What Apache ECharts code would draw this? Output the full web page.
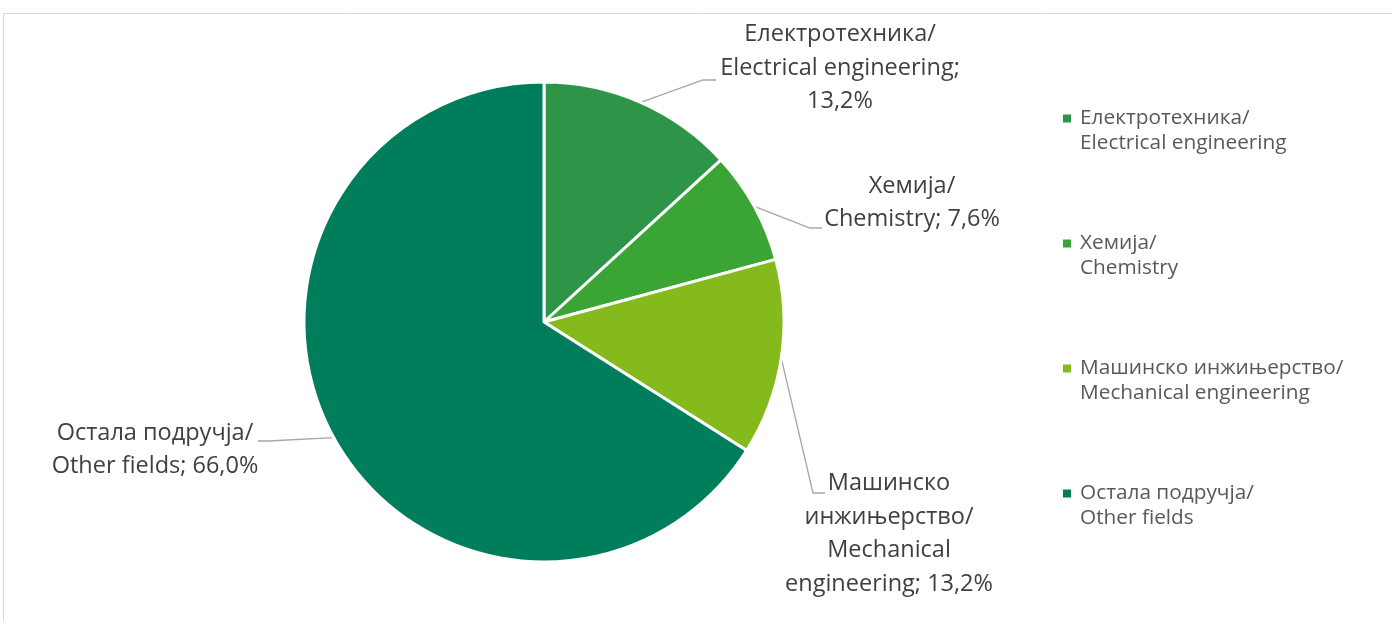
<!DOCTYPE html>
<html>
<head>
<meta charset="utf-8">
<script src="https://cdn.jsdelivr.net/npm/echarts@6/dist/echarts.min.js"></script>
<style>html,body{margin:0;padding:0;background:#fff}#c{width:1392px;height:621px}</style>
</head>
<body>
<div id="c"></div>
<script>
var categories = [
  'Електротехника/\nElectrical engineering',
  'Хемија/\nChemistry',
  'Машинско инжињерство/\nMechanical engineering',
  'Остала подручја/\nOther fields'
];
var labelTexts = [
  'Електротехника/\nElectrical engineering;',
  'Хемија/\nChemistry;',
  'Машинско\nинжињерство/\nMechanical\nengineering;',
  'Остала подручја/\nOther fields;'
];
var shares = [13.2, 7.6, 13.2, 66.0];
var colors = ['#2E9448', '#3AA535', '#84BA1C', '#007E5B'];

// label anchor (center) and line elbow/end per slice
var labelPos = [
  {x: 840, y: 68, elbow: [703, 80], end: [716, 80]},
  {x: 912, y: 203, elbow: [810, 228], end: [822, 228]},
  {x: 889, y: 534, elbow: [813, 493], end: [825, 493]},
  {x: 155, y: 450, elbow: [268, 441], end: [258, 441]}
];

function fmtPct(v) { return v.toFixed(1).replace('.', ',') + '%'; }

var chart = echarts.init(document.getElementById('c'), null, {renderer: 'canvas'});
var data = categories.map(function (n, i) {
  var lt = labelTexts[i];
  var txt = (i === 0) ? lt + '\n' + fmtPct(shares[i]) : lt + ' ' + fmtPct(shares[i]);
  return {name: n, value: shares[i], itemStyle: {color: colors[i]}, label: {formatter: txt}};
});

chart.setOption({
  animation: false,
  graphic: [{
    type: 'rect', shape: {x: 3.5, y: 13.5, width: 1420, height: 640},
    style: {fill: 'none', stroke: '#d9d9d9', lineWidth: 1}, silent: true
  }],
  legend: {
    orient: 'vertical',
    left: 1058, top: 76,
    itemWidth: 8, itemHeight: 8,
    icon: 'rect',
    itemGap: 50,
    selectedMode: false,
    itemStyle: {borderWidth: 0},
    formatter: function (name) { return '\u200b\n' + name; },
    textStyle: {
      fontFamily: 'Open Sans, Noto Sans, sans-serif',
      fontSize: 20.8, color: '#595959', lineHeight: 25,
      padding: [0, 0, 0, 4]
    },
    data: categories
  },
  series: [{
    type: 'pie',
    center: [544, 322],
    radius: 240,
    startAngle: 90,
    clockwise: true,
    avoidLabelOverlap: false,
    itemStyle: {borderColor: '#ffffff', borderWidth: 3},
    label: {
      show: true, position: 'outside',
      fontFamily: 'Open Sans, Noto Sans, sans-serif',
      fontSize: 23.5, color: '#404040', lineHeight: 33.5, align: 'center'
    },
    labelLine: {show: true, length: 20, length2: 10, lineStyle: {color: '#a6a6a6', width: 1.3}},
    labelLayout: function (params) {
      var p = labelPos[params.dataIndex];
      var start = params.labelLinePoints ? params.labelLinePoints[0] : [p.elbow[0], p.elbow[1]];
      return {
        x: p.x, y: p.y, align: 'center', verticalAlign: 'middle',
        labelLinePoints: [start, p.elbow, p.end]
      };
    },
    emphasis: {disabled: true},
    data: data
  }]
});
</script>
</body>
</html>
